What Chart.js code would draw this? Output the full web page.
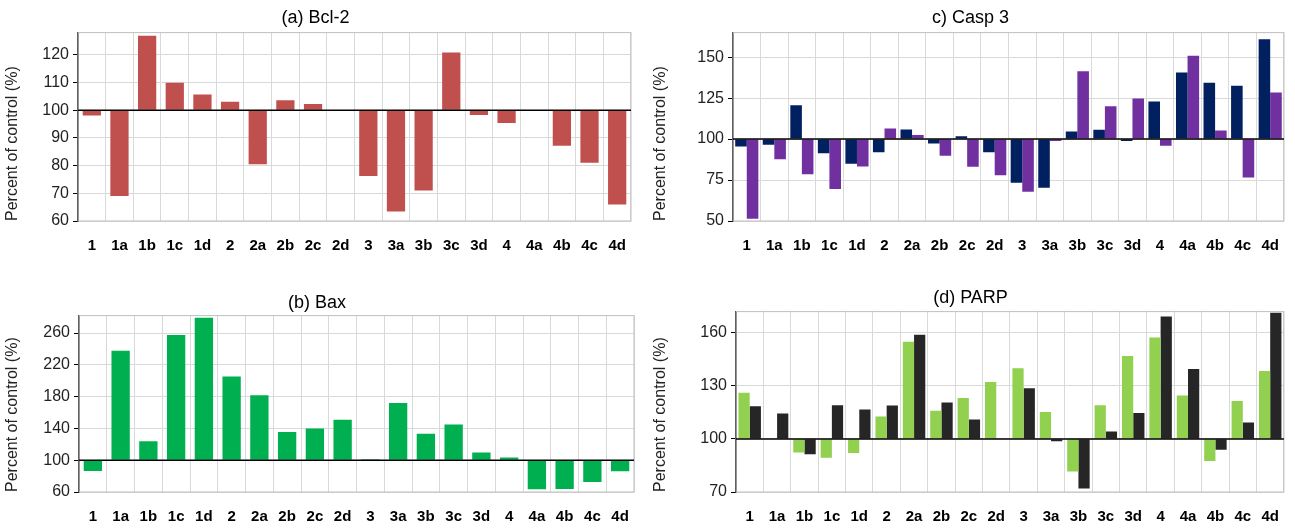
<!DOCTYPE html>
<html>
<head>
<meta charset="utf-8">
<script src="https://cdn.jsdelivr.net/npm/chart.js@4"></script>
<style>
  body { margin: 0; background: #fff; }
  #wrap { position: relative; width: 1295px; height: 529px; }
  .panel { position: absolute; }
</style>
</head>
<body>
<div id="wrap">
  <div class="panel" style="left:0;top:0;width:648px;height:262px"><canvas id="chart-a"></canvas></div>
  <div class="panel" style="left:648px;top:0;width:647px;height:262px"><canvas id="chart-c"></canvas></div>
  <div class="panel" style="left:0;top:262px;width:648px;height:267px"><canvas id="chart-b"></canvas></div>
  <div class="panel" style="left:648px;top:262px;width:647px;height:267px"><canvas id="chart-d"></canvas></div>
</div>
<script>
const compounds = ['1', '1a', '1b', '1c', '1d', '2', '2a', '2b', '2c', '2d', '3', '3a', '3b', '3c', '3d', '4', '4a', '4b', '4c', '4d'];

// (a) Bcl-2
const bcl2 = [98.1, 69, 126.9, 109.9, 105.7, 103, 80.5, 103.6, 102.2, 100, 76.2, 63.4, 71, 120.8, 98.3, 95.4, 100, 87.2, 81, 66];
const bcl2Ticks = [60, 70, 80, 90, 100, 110, 120];
// (b) Bax
const bax = [86.5, 237.7, 124, 257.5, 279.4, 205.3, 181.7, 135.4, 140, 150.9, 101.3, 172, 133.3, 145, 109.7, 103.4, 63.4, 63.8, 72.6, 86];
const baxTicks = [60, 100, 140, 180, 220, 260];
// (c) Casp 3, two series
const casp3Navy = [95.5, 96.5, 120.7, 91.4, 85, 92, 105.9, 97.3, 101.8, 92, 73.4, 70.3, 104.7, 105.7, 98.8, 123, 140.6, 134.4, 132.6, 161];
const casp3Purple = [51.4, 87.7, 78.5, 69.5, 83.2, 106.4, 102.5, 89.8, 83.1, 78, 67.8, 98.8, 141.4, 120, 124.8, 95.9, 150.8, 105.3, 76.6, 128.5];
const casp3Ticks = [50, 75, 100, 125, 150];
// (d) PARP, two series
const parpGreen = [126.1, 100, 92.4, 89.4, 92, 112.7, 154.9, 115.9, 123.1, 132.2, 140, 115.2, 81.6, 119.1, 146.9, 157.4, 124.6, 87.5, 121.4, 138.4];
const parpDark = [118.5, 114.4, 91.3, 119.1, 116.7, 118.9, 158.9, 120.6, 111, 100, 128.6, 98.7, 72, 104.2, 114.6, 169.3, 139.6, 93.9, 109.3, 171.4];
const parpTicks = [70, 100, 130, 160];

const FONT = "'Liberation Sans', Arial, sans-serif";

// plot frame + black line at 100
const framePlugin = {
  id: 'frame',
  beforeDatasetsDraw(chart) {
    const { ctx, chartArea: a } = chart;
    ctx.save();
    ctx.strokeStyle = '#bfbfbf';
    ctx.lineWidth = 1;
    ctx.strokeRect(a.left, a.top, a.right - a.left, a.bottom - a.top);
    ctx.restore();
  },
  afterDatasetsDraw(chart) {
    const { ctx, chartArea: a, scales } = chart;
    const y = scales.y.getPixelForValue(100);
    ctx.save();
    ctx.strokeStyle = '#000';
    ctx.lineWidth = 1.5;
    ctx.beginPath();
    ctx.moveTo(a.left, y);
    ctx.lineTo(a.right, y);
    ctx.stroke();
    ctx.restore();
  }
};

function makePanel(id, opts) {
  const datasets = opts.series.map(s => ({
    data: s.data,
    backgroundColor: s.color,
    base: 100,
    borderWidth: 0,
    barPercentage: 1,
    categoryPercentage: opts.catPct
  }));
  return new Chart(document.getElementById(id), {
    type: 'bar',
    data: { labels: compounds, datasets },
    plugins: [framePlugin],
    options: {
      responsive: true,
      maintainAspectRatio: false,
      animation: false,
      layout: { padding: { left: 0, right: opts.padRight, top: 0, bottom: 0 } },
      plugins: {
        legend: { display: false },
        tooltip: { enabled: false },
        title: {
          display: true,
          text: opts.title,
          color: '#000',
          font: { family: FONT, size: 18, weight: 'normal' },
          padding: { top: opts.titleTop, bottom: opts.titleBottom }
        }
      },
      scales: {
        x: {
          grid: { color: '#d9d9d9', offset: true, drawTicks: false },
          border: { display: false },
          ticks: { color: '#000', font: { family: FONT, size: 15, weight: 'bold' }, padding: 16, maxRotation: 0, autoSkip: false },
          afterFit: axis => { axis.height = opts.xHeight; }
        },
        y: {
          min: opts.min,
          max: opts.max,
          grid: { color: '#d9d9d9', tickColor: '#000', tickLength: 5 },
          border: { color: '#000', width: 1.5 },
          ticks: { color: '#222', font: { family: FONT, size: 16 }, padding: 4 },
          afterBuildTicks: axis => { axis.ticks = opts.ticks.map(v => ({ value: v })); },
          title: { display: true, text: 'Percent of control (%)', align: 'start', color: '#222', font: { family: FONT, size: 16 }, padding: { top: 3, bottom: 0 } },
          afterFit: axis => { axis.width = opts.yWidth; }
        }
      }
    }
  });
}

makePanel('chart-a', {
  title: '(a) Bcl-2', series: [{ data: bcl2, color: '#c0504d' }],
  min: 60, max: 128, ticks: bcl2Ticks, catPct: 0.66,
  yWidth: 78, padRight: 17, xHeight: 41, titleTop: 7, titleBottom: 4
});
makePanel('chart-c', {
  title: 'c) Casp 3', series: [{ data: casp3Navy, color: '#002060' }, { data: casp3Purple, color: '#7030a0' }],
  min: 50, max: 165, ticks: casp3Ticks, catPct: 0.84,
  yWidth: 85, padRight: 2, xHeight: 41, titleTop: 7, titleBottom: 4
});
makePanel('chart-b', {
  title: '(b) Bax', series: [{ data: bax, color: '#00b050' }],
  min: 60, max: 282, ticks: baxTicks, catPct: 0.66,
  yWidth: 79, padRight: 14, xHeight: 37, titleTop: 30, titleBottom: 2
});
makePanel('chart-d', {
  title: '(d) PARP', series: [{ data: parpGreen, color: '#92d050' }, { data: parpDark, color: '#262626' }],
  min: 70, max: 172, ticks: parpTicks, catPct: 0.82,
  yWidth: 88, padRight: 2, xHeight: 37, titleTop: 25, titleBottom: 3
});
</script>
</body>
</html>
